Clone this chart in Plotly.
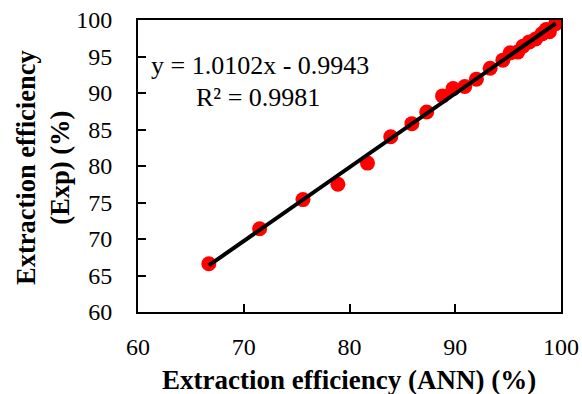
import plotly.graph_objects as go

ann_x = [66.7, 71.5, 75.6, 78.9, 81.7, 83.9, 85.9, 87.3, 88.8, 89.8, 90.9, 92.0, 93.3,
         94.5, 95.2, 95.9, 96.4, 97.0, 97.6, 98.2, 98.6, 98.9, 99.5]
exp_y = [66.6, 71.4, 75.4, 77.5, 80.4, 84.0, 85.8, 87.4, 89.6, 90.6, 90.9, 91.9, 93.4,
         94.5, 95.5, 95.6, 96.4, 97.0, 97.4, 98.1, 98.7, 98.4, 99.5]
slope, intercept = 1.0102, -0.9943
x_ticks = [60, 70, 80, 90, 100]
y_ticks = [60, 65, 70, 75, 80, 85, 90, 95, 100]

xmin, xmax = min(ann_x), max(ann_x)
fit_x = [xmin, xmax]
fit_y = [slope * v + intercept for v in fit_x]

FONT = "Liberation Serif, Times New Roman, serif"

fig = go.Figure()
fig.add_trace(go.Scatter(x=ann_x, y=exp_y, mode="markers",
                         marker=dict(color="#ff0000", size=15, line=dict(width=0)),
                         showlegend=False))
fig.add_trace(go.Scatter(x=fit_x, y=fit_y, mode="lines",
                         line=dict(color="black", width=4), showlegend=False))

axis_common = dict(showgrid=False, zeroline=False, showline=True, linecolor="black",
                   linewidth=2, mirror=True, ticks="inside", ticklen=8, tickwidth=1.5,
                   tickcolor="black", automargin=False,
                   tickfont=dict(family=FONT, size=24, color="black"))
fig.update_xaxes(range=[60, 100], tickvals=x_ticks, ticklabelstandoff=12, **axis_common)
fig.update_yaxes(range=[60, 100], tickvals=y_ticks, ticklabelstandoff=19, **axis_common)

fig.update_layout(
    width=582, height=394,
    margin=dict(l=138, r=21, t=20, b=82),
    paper_bgcolor="white", plot_bgcolor="white",
    font=dict(family=FONT, color="black"),
    annotations=[
        dict(text="<b>Extraction efficiency (ANN) (%)</b>", xref="paper", yref="paper",
             x=(349 - 138) / 423, y=-(380 - 312) / 292, xanchor="center", yanchor="middle",
             showarrow=False, font=dict(family=FONT, size=27, color="black")),
        dict(text="<b>Extraction efficiency<br>(Exp) (%)</b>", xref="paper", yref="paper",
             x=-(138 - 43) / 423, y=(312 - 168) / 292, xanchor="center", yanchor="middle",
             textangle=-90, showarrow=False,
             font=dict(family=FONT, size=26.5, color="black")),
        dict(text="y = 1.0102x - 0.9943", xref="paper", yref="paper",
             x=(149 - 138) / 423, y=(312 - 66) / 292, xanchor="left", yanchor="middle",
             showarrow=False, font=dict(family=FONT, size=26, color="black")),
        dict(text="R² = 0.9981", xref="paper", yref="paper",
             x=(194 - 138) / 423, y=(312 - 98) / 292, xanchor="left", yanchor="middle",
             showarrow=False, font=dict(family=FONT, size=26, color="black")),
    ],
)

fig.write_html("out.html")
